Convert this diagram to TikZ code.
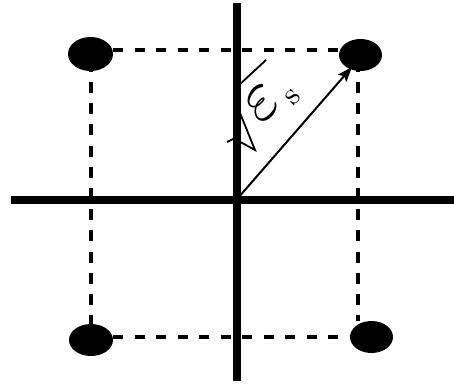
\documentclass[tikz,border=0pt]{standalone}
\usetikzlibrary{arrows.meta,shapes.geometric}
\begin{document}
\begin{tikzpicture}[x=1pt,y=-1pt,
  dot/.style={ellipse,fill=black,inner sep=0pt},
  axisline/.style={line width=8pt},
  hdash/.style={line width=4pt, dash pattern=on 10pt off 11.5pt},
  vdash/.style={line width=4.5pt, dash pattern=on 11pt off 10.2pt},
  vec/.style={line width=2pt,-{Stealth[length=15pt,width=11pt,inset=3pt]}},
  radical/.style={line width=1.8pt, line join=miter}]
\useasboundingbox (0,0) rectangle (454,383);
% axes
\coordinate (o) at (236.7,199.5);
\coordinate (xl) at (11,199.5);
\coordinate (xr) at (454,199.5);
\coordinate (yt) at (236.7,3.3);
\coordinate (yb) at (236.7,380.7);
% dashed guide ends
\coordinate (t1) at (113,49.5);
\coordinate (t2) at (339,49.5);
\coordinate (b1) at (113,337);
\coordinate (b2) at (350,337);
\coordinate (l1) at (91,60.7);
\coordinate (l2) at (91,324);
\coordinate (r1) at (358,60.7);
\coordinate (r2) at (358,321);
\draw[hdash] (t1) -- (t2);
\draw[hdash] (b1) -- (b2);
\draw[vdash] (l1) -- (l2);
\draw[vdash] (r1) -- (r2);
% dots
\node[dot,minimum width=45pt,minimum height=34pt] (tl) at (90.5,54) {};
\node[dot,minimum width=43pt,minimum height=32pt] (tr) at (360.5,55) {};
\node[dot,minimum width=44pt,minimum height=32pt] (bl) at (91,340) {};
\node[dot,minimum width=43pt,minimum height=32pt] (br) at (371.5,337) {};
\draw[axisline] (xl) -- (xr);
\draw[axisline] (yt) -- (yb);
% vector
\coordinate (tip) at (352,67);
\draw[vec] (o) -- (tip);
% radical
\draw[radical] (227,142) -- (234,138.5) -- (255,150) -- (240,113) -- (238,86) -- (266,60);
\node[rotate=45,scale=7,inner sep=0pt] (eps) at (271,101)
  {$\varepsilon$\hspace{0.5pt}\raisebox{-1.3pt}{\scalebox{0.45}{s}}};
\end{tikzpicture}
\end{document}
